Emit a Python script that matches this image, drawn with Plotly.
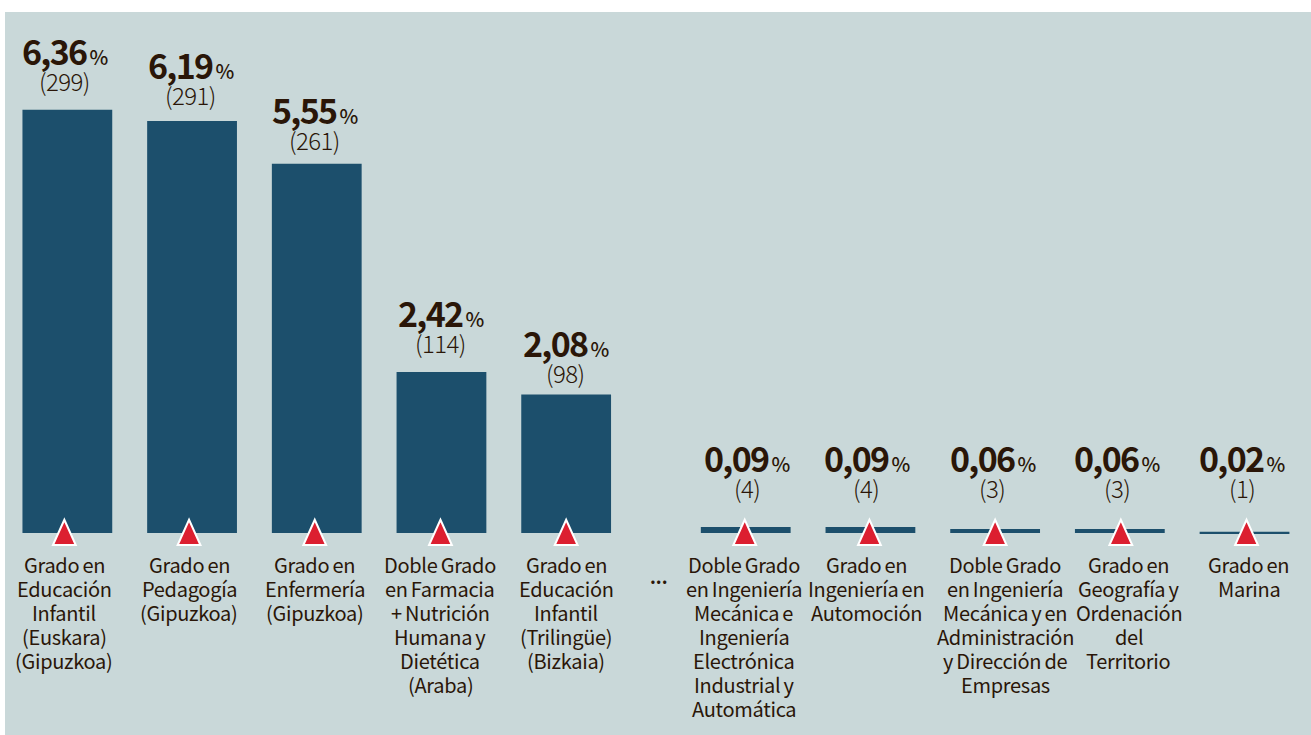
# plot.py
import plotly.graph_objects as go

# datos
categorias = [
    "Grado en<br>Educación<br>Infantil<br>(Euskara)<br>(Gipuzkoa)",
    "Grado en<br>Pedagogía<br>(Gipuzkoa)",
    "Grado en<br>Enfermería<br>(Gipuzkoa)",
    "Doble Grado<br>en Farmacia<br>+ Nutrición<br>Humana y<br>Dietética<br>(Araba)",
    "Grado en<br>Educación<br>Infantil<br>(Trilingüe)<br>(Bizkaia)",
    "Doble Grado<br>en Ingeniería<br>Mecánica e<br>Ingeniería<br>Electrónica<br>Industrial y<br>Automática",
    "Grado en<br>Ingeniería en<br>Automoción",
    "Doble Grado<br>en Ingeniería<br>Mecánica y en<br>Administración<br>y Dirección de<br>Empresas",
    "Grado en<br>Geografía y<br>Ordenación<br>del<br>Territorio",
    "Grado en<br>Marina",
]
porcentajes = [6.36, 6.19, 5.55, 2.42, 2.08, 0.09, 0.09, 0.06, 0.06, 0.02]
etiquetas_pct = ["6,36", "6,19", "5,55", "2,42", "2,08", "0,09", "0,09", "0,06", "0,06", "0,02"]
alumnos = [299, 291, 261, 114, 98, 4, 4, 3, 3, 1]

# posicion de cada barra (el hueco de los "..." va tras la quinta)
pos_x = [0, 1, 2, 3, 4, 5.44, 6.44, 7.44, 8.44, 9.44]

# ajustes en pixeles respecto a la barra
dx_triangulo = [-3, -3, -2, -1, 0, -1, -1, 0, 1, 2]
dx_valor = [-2, -1, -1, 0, 0, 2, -3, -2, -2, -2]
dx_recuento = [-3, -2, -2, -1, -1, 1, -4, -3, -3, -3]
dx_texto = [-3, -3, -2, -1, 0, -2, -4, 10, 9, 4]
# altura de la linea base del porcentaje sobre el eje
base_valor = [457, 443, 398, 195, 165, 50, 50, 50, 50, 50]

FONT = "Noto Sans CJK JP"
COLOR_TEXTO = "#2a1608"
LINEA = 24

fig = go.Figure()
fig.add_trace(go.Bar(x=pos_x, y=porcentajes, width=0.72, marker_color="#1c4f6c", marker_line_width=0))

for i, x in enumerate(pos_x):
    # triangulo rojo sobre la base
    d = dx_triangulo[i]
    fig.add_shape(
        type="path", xref="x", yref="y", xsizemode="pixel", ysizemode="pixel",
        xanchor=x, yanchor=0,
        path=f"M {d - 11.4} -12 L {d + 11.4} -12 L {d} 13.3 Z",
        fillcolor="#dc1f30", line=dict(color="white", width=2), layer="above",
    )
    # valor y recuento
    fig.add_annotation(
        x=x, y=0, xref="x", yref="y", xshift=dx_valor[i], yshift=base_valor[i],
        text=(
            f"<span style='letter-spacing:-1.7px;font-weight:700'>{etiquetas_pct[i]}</span>"
            "<span style='font-size:14px'> </span>"
            "<span style='font-size:20px;font-weight:500'>%</span>"
        ),
        showarrow=False, yanchor="bottom", xanchor="center", borderpad=0,
        font=dict(family=FONT, size=34, color=COLOR_TEXTO),
    )
    fig.add_annotation(
        x=x, y=0, xref="x", yref="y", xshift=dx_recuento[i], yshift=base_valor[i] - 23,
        text=f"<span style='letter-spacing:-0.6px'>({alumnos[i]})</span>",
        showarrow=False, yanchor="bottom", xanchor="center", borderpad=0,
        font=dict(family=FONT, size=24, color=COLOR_TEXTO, weight=300),
    )
    # nombre del grado, linea a linea
    for k, linea in enumerate(categorias[i].split("<br>")):
        fig.add_annotation(
            x=x, y=0, xref="x", yref="y", xshift=dx_texto[i], yshift=-31 - LINEA * k,
            text=f"<span style='letter-spacing:-0.3px;word-spacing:-1px'>{linea}</span>",
            showarrow=False, yanchor="middle", xanchor="center", borderpad=0,
            font=dict(family=FONT, size=20, color=COLOR_TEXTO),
        )

fig.add_annotation(
    x=4.73, y=0, xref="x", yref="y", xshift=2, yshift=-43, text="<b>...</b>", showarrow=False,
    font=dict(family=FONT, size=18, color=COLOR_TEXTO),
)

fig.update_layout(
    width=1311, height=735,
    margin=dict(l=5, r=0, t=12, b=0, pad=0),
    paper_bgcolor="white", plot_bgcolor="#c9d8d9",
    showlegend=False,
    xaxis=dict(range=[-0.5, 9.973], visible=False, showgrid=False, zeroline=False),
    yaxis=dict(range=[-3.035, 7.829], visible=False, showgrid=False, zeroline=False),
)

fig.write_html("out.html", config={"displayModeBar": False}, post_script="document.body.style.margin='0';")
